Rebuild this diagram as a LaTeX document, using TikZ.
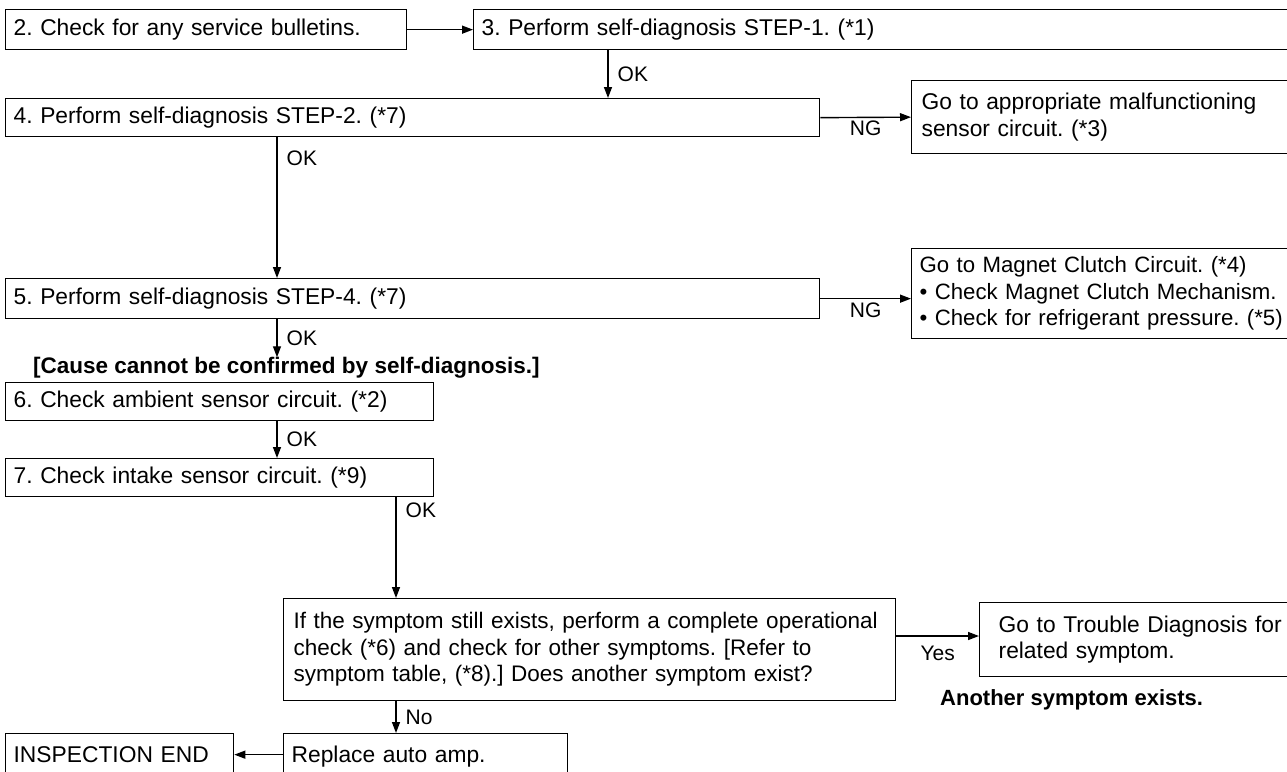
\documentclass[tikz,border=0pt]{standalone}
\usepackage{fontspec}
\setmainfont{Liberation Sans}
\usetikzlibrary{arrows.meta, positioning, calc}
\frenchspacing
\tikzset{
  stepbox/.style = {draw, line width=1.3pt, anchor=north west, align=left,
                    inner xsep=8pt, inner ysep=0pt, font=\fontsize{22.8}{26.5}\selectfont},
  flow/.style    = {-{Triangle[length=11pt, width=8pt]}, line width=1.4pt},
  lbl/.style     = {font=\fontsize{21}{24}\selectfont, inner sep=3pt},
  note/.style    = {font=\fontsize{22.5}{26}\selectfont\bfseries, anchor=west, inner sep=0pt}
}

\begin{document}
\begin{tikzpicture}[x=1pt, y=-1pt]
\useasboundingbox (0,0) rectangle (1287,771);
\clip (0,0) rectangle (1287,771);
% self-diagnosis steps
\node[stepbox, minimum width=401pt, minimum height=40pt, text width=385pt] (bulletin) at (5,9) {2. Check for any service bulletins.};
\node[stepbox, minimum width=830pt, minimum height=40pt, text width=814pt] (diagone) at (473,9) {3. Perform self-diagnosis STEP-1. (*1)};
\node[stepbox, minimum width=814pt, minimum height=38pt, text width=798pt] (diagtwo) at (5,98) {4. Perform self-diagnosis STEP-2. (*7)};
\node[stepbox, minimum width=390pt, minimum height=73pt, text width=370pt, inner xsep=10pt] (sensorng) at (911,80) {Go to appropriate malfunctioning\\sensor circuit. (*3)};
\node[stepbox, minimum width=814pt, minimum height=40pt, text width=798pt] (diagfour) at (5,278) {5. Perform self-diagnosis STEP-4. (*7)};
\node[stepbox, minimum width=420pt, minimum height=90pt, text width=404pt, font=\fontsize{22.2}{26.5}\selectfont] (clutchng) at (911,248) {Go to Magnet Clutch Circuit. (*4)\\\textbullet\ Check Magnet Clutch Mechanism.\\\textbullet\ Check for refrigerant pressure. (*5)};
\node[note] (cause) at (33,368) {[Cause cannot be confirmed by self-diagnosis.]};
% sensor circuits
\node[stepbox, minimum width=428pt, minimum height=38pt, text width=412pt] (ambient) at (5,382) {6. Check ambient sensor circuit. (*2)};
\node[stepbox, minimum width=428pt, minimum height=38pt, text width=412pt] (intake) at (5,458) {7. Check intake sensor circuit. (*9)};
\node[stepbox, minimum width=612pt, minimum height=102pt, text width=592pt, inner xsep=10pt, font=\fontsize{22.5}{26.5}\selectfont] (symptom) at (283,598) {If the symptom still exists, perform a complete operational\\check (*6) and check for other symptoms. [Refer to\\symptom table, (*8).] Does another symptom exist?};
\node[stepbox, minimum width=330pt, minimum height=74pt, text width=292pt, inner xsep=19pt] (trouble) at (979,602) {Go to Trouble Diagnosis for\\related symptom.};
\node[note, font=\fontsize{22}{26}\selectfont\bfseries] (another) at (940,700) {Another symptom exists.};
\node[stepbox, minimum width=284pt, text width=268pt, text height=25pt, text depth=45pt, inner ysep=4pt] (replace) at (283,733) {Replace auto amp.};
\node[stepbox, minimum width=228pt, text width=212pt, text height=25pt, text depth=45pt, inner ysep=4pt] (inspend) at (5,733) {INSPECTION END};
% connectors
\coordinate (colA) at (608,0);
\coordinate (colB) at (277,0);
\coordinate (colC) at (396,0);
\coordinate (rowY) at (0,636);
\draw[flow] (bulletin.east) -- (diagone.west);
\draw[flow] (diagone.south -| colA) -- node[lbl, right, xshift=6pt] (okA) {OK} (diagtwo.north -| colA);
\draw[flow] (diagtwo.east) -- node[lbl, below] (ngA) {NG} (sensorng.west);
\draw[flow] (diagtwo.south -| colB) -- node[lbl, right, xshift=6pt, pos=0.15] (okB) {OK} (diagfour.north -| colB);
\draw[flow] (diagfour.east) -- node[lbl, below] (ngB) {NG} (diagfour.east -| clutchng.west);
\draw[flow] (diagfour.south -| colB) -- node[lbl, right, xshift=6pt] (okC) {OK} (cause.north -| colB);
\draw[flow] (ambient.south -| colB) -- node[lbl, right, xshift=6pt] (okD) {OK} (intake.north -| colB);
\draw[flow] (intake.south -| colC) -- node[lbl, right, xshift=6pt, pos=0.13] (okE) {OK} (symptom.north -| colC);
\draw[flow] (symptom.east |- rowY) -- node[lbl, below, yshift=-6pt] (yes) {Yes} (trouble.west |- rowY);
\draw[flow] (symptom.south -| colC) -- node[lbl, right, xshift=6pt] (no) {No} (replace.north -| colC);
\draw[flow] ([yshift=8pt]replace.base west) -- ([yshift=8pt]replace.base west -| inspend.east);
\end{tikzpicture}
\end{document}
